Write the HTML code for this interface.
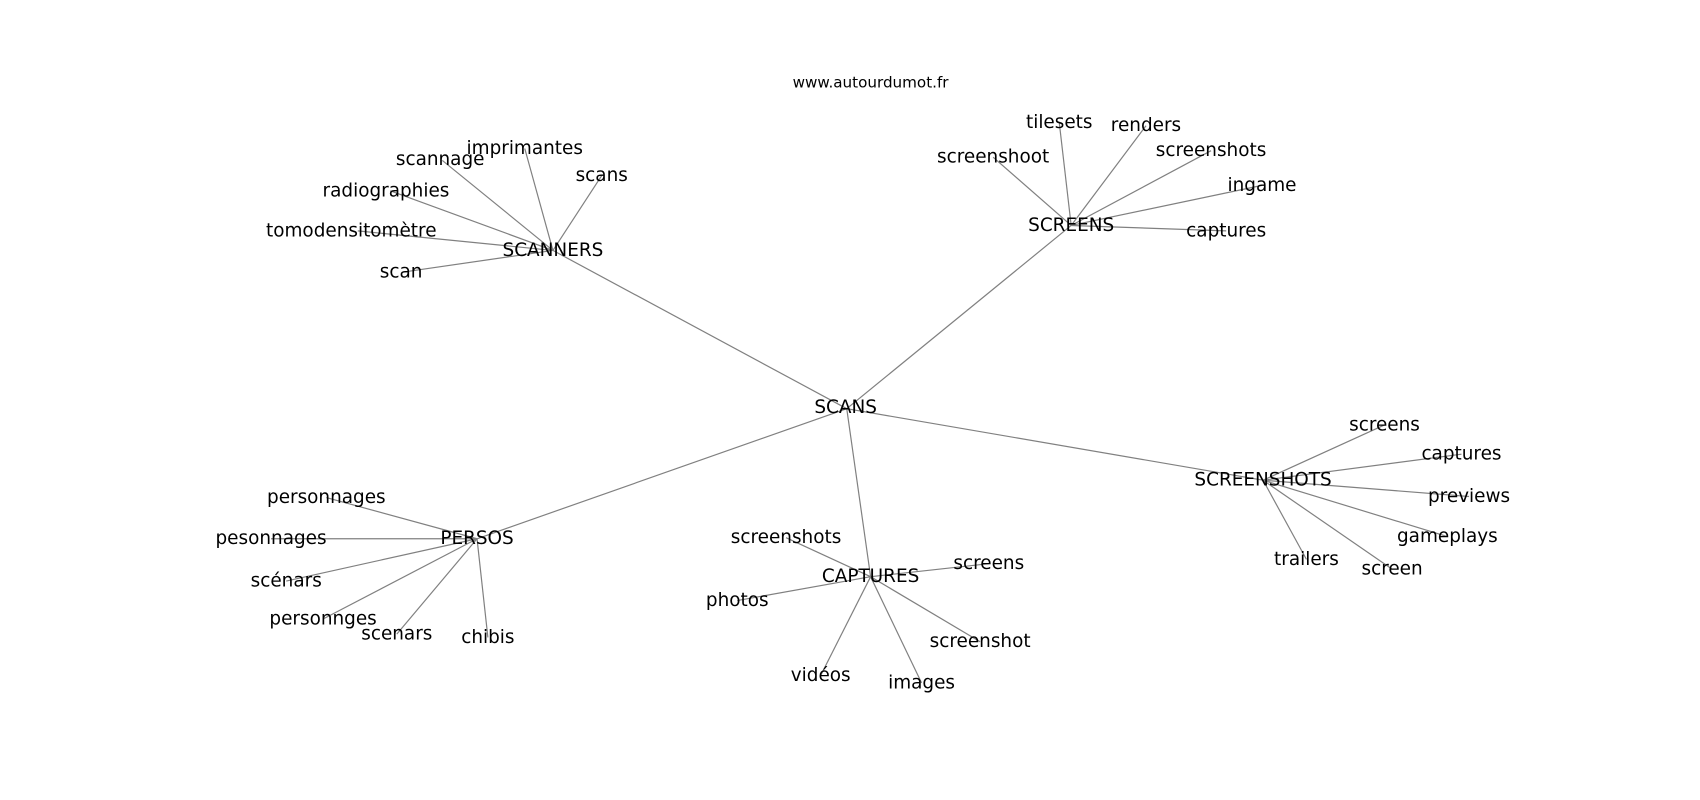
<!DOCTYPE html>
<html><head><meta charset="utf-8"><style>
html,body{margin:0;padding:0;background:#fff;width:1700px;height:800px;overflow:hidden}
text{font-family:"DejaVu Sans","Liberation Sans",sans-serif;font-size:17px;fill:#000}
line{stroke:#808080;stroke-width:1.1}
</style></head><body>
<svg width="1700" height="800" viewBox="0 0 1568 738" preserveAspectRatio="none" xmlns="http://www.w3.org/2000/svg">
<g>
<line x1="781" y1="377" x2="510" y2="231"/>
<line x1="781" y1="377" x2="988" y2="208"/>
<line x1="781" y1="377" x2="1165" y2="443"/>
<line x1="781" y1="377" x2="440" y2="497"/>
<line x1="781" y1="377" x2="803" y2="532"/>
<line x1="510" y1="231" x2="408" y2="148"/>
<line x1="510" y1="231" x2="484" y2="137"/>
<line x1="510" y1="231" x2="555" y2="162"/>
<line x1="510" y1="231" x2="360" y2="176"/>
<line x1="510" y1="231" x2="330" y2="213"/>
<line x1="510" y1="231" x2="372" y2="251"/>
<line x1="988" y1="208" x2="977" y2="113"/>
<line x1="988" y1="208" x2="1057" y2="116"/>
<line x1="988" y1="208" x2="1117" y2="139"/>
<line x1="988" y1="208" x2="916" y2="145"/>
<line x1="988" y1="208" x2="1164" y2="171"/>
<line x1="988" y1="208" x2="1131" y2="213"/>
<line x1="1165" y1="443" x2="1277" y2="392"/>
<line x1="1165" y1="443" x2="1348" y2="419"/>
<line x1="1165" y1="443" x2="1355" y2="458"/>
<line x1="1165" y1="443" x2="1335" y2="495"/>
<line x1="1165" y1="443" x2="1284" y2="525"/>
<line x1="1165" y1="443" x2="1205" y2="516"/>
<line x1="440" y1="497" x2="301" y2="459"/>
<line x1="440" y1="497" x2="250" y2="497"/>
<line x1="440" y1="497" x2="264" y2="536"/>
<line x1="440" y1="497" x2="298" y2="571"/>
<line x1="440" y1="497" x2="366" y2="585"/>
<line x1="440" y1="497" x2="450" y2="588"/>
<line x1="803" y1="532" x2="725" y2="496"/>
<line x1="803" y1="532" x2="912" y2="520"/>
<line x1="803" y1="532" x2="680" y2="554"/>
<line x1="803" y1="532" x2="904" y2="592"/>
<line x1="803" y1="532" x2="757" y2="623"/>
<line x1="803" y1="532" x2="850" y2="630"/>
</g>
<g text-anchor="middle" dominant-baseline="central">
<text x="803" y="76" style="font-size:14px">www.autourdumot.fr</text>
<text x="780" y="376">SCANS</text>
<text x="510" y="231">SCANNERS</text>
<text x="988" y="208">SCREENS</text>
<text x="1165" y="443">SCREENSHOTS</text>
<text x="440" y="497">PERSOS</text>
<text x="803" y="532">CAPTURES</text>
<text x="406" y="147">scannage</text>
<text x="484" y="137">imprimantes</text>
<text x="555" y="162">scans</text>
<text x="356" y="176">radiographies</text>
<text x="324" y="213">tomodensitomètre</text>
<text x="370" y="251">scan</text>
<text x="977" y="113">tilesets</text>
<text x="1057" y="116">renders</text>
<text x="1117" y="139">screenshots</text>
<text x="916" y="145">screenshoot</text>
<text x="1164" y="171">ingame</text>
<text x="1131" y="213">captures</text>
<text x="1277" y="392">screens</text>
<text x="1348" y="419">captures</text>
<text x="1355" y="458">previews</text>
<text x="1335" y="495">gameplays</text>
<text x="1284" y="525">screen</text>
<text x="1205" y="516">trailers</text>
<text x="301" y="459">personnages</text>
<text x="250" y="497">pesonnages</text>
<text x="264" y="536">scénars</text>
<text x="298" y="571">personnges</text>
<text x="366" y="585">scenars</text>
<text x="450" y="588">chibis</text>
<text x="725" y="496">screenshots</text>
<text x="912" y="520">screens</text>
<text x="680" y="554">photos</text>
<text x="904" y="592">screenshot</text>
<text x="757" y="623">vidéos</text>
<text x="850" y="630">images</text>
</g>
</svg>
</body></html>
